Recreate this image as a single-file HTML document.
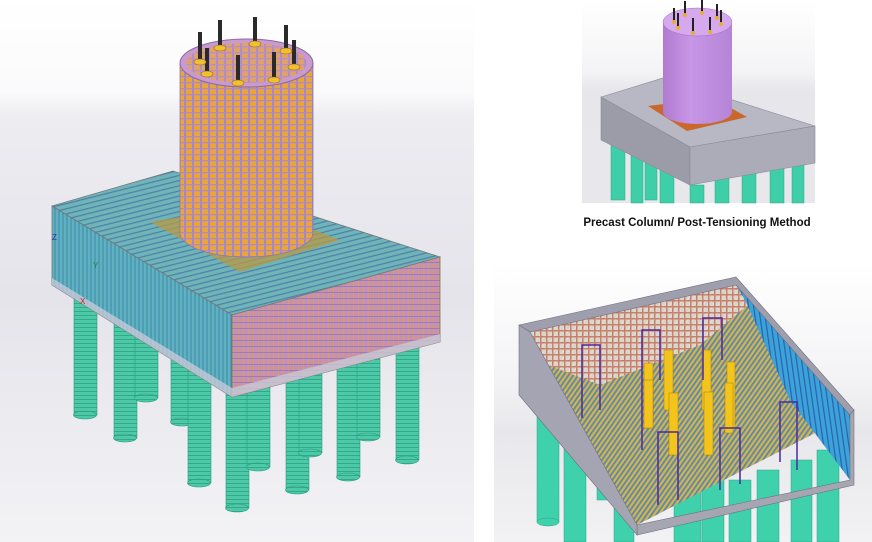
<!DOCTYPE html>
<html><head><meta charset="utf-8"><style>
html,body{margin:0;padding:0;background:#fff;}
body{width:872px;height:542px;overflow:hidden;position:relative;font-family:"Liberation Sans",sans-serif;}
svg{position:absolute;left:0;top:0;}
</style></head><body>
<svg width="872" height="542" viewBox="0 0 872 542">
<defs>
<linearGradient id="bgL" x1="0" y1="0" x2="0" y2="1">
<stop offset="0" stop-color="#ffffff"/><stop offset="0.17" stop-color="#fafafb"/><stop offset="0.22" stop-color="#ececf1"/><stop offset="0.55" stop-color="#e4e4ea"/><stop offset="1" stop-color="#f3f3f6"/></linearGradient>
<linearGradient id="bgR" x1="0" y1="0" x2="0" y2="1">
<stop offset="0" stop-color="#ffffff"/><stop offset="0.35" stop-color="#f4f4f6"/><stop offset="0.45" stop-color="#e6e6eb"/><stop offset="1" stop-color="#e8e8ec"/></linearGradient>
<linearGradient id="bgR2" x1="0" y1="0" x2="0" y2="1">
<stop offset="0" stop-color="#ffffff"/><stop offset="0.4" stop-color="#f4f4f6"/><stop offset="0.6" stop-color="#e8e8ec"/><stop offset="1" stop-color="#f2f2f4"/></linearGradient>
<linearGradient id="cylShade" x1="0" y1="0" x2="1" y2="0">
<stop offset="0" stop-color="#b07ad0"/><stop offset="0.4" stop-color="#c896e6"/><stop offset="1" stop-color="#b584d6"/></linearGradient>
<pattern id="colP" width="8" height="6" patternUnits="userSpaceOnUse">
<rect width="8" height="6" fill="#e9a53c"/><rect x="0" width="2" height="6" fill="#a487c8"/><rect y="4" width="8" height="1.3" fill="#b08ac4"/></pattern>
<pattern id="topP" width="5" height="5" patternUnits="userSpaceOnUse" patternTransform="rotate(-14)">
<rect width="5" height="5" fill="#6fb4b8"/><rect y="3" width="5" height="1.2" fill="#4f7fa6"/></pattern>
<pattern id="leftP" width="4" height="6" patternUnits="userSpaceOnUse">
<rect width="4" height="6" fill="#5fb2c0"/><rect x="2.5" width="1" height="6" fill="#3f86a8"/></pattern>
<pattern id="rightP" width="5" height="6" patternUnits="userSpaceOnUse">
<rect width="5" height="6" fill="#c58fb8"/><rect x="3" width="1.2" height="6" fill="#d8a05a"/><rect y="4" width="5" height="1" fill="#9a7ac0"/></pattern>
<pattern id="pileP" width="20" height="4" patternUnits="userSpaceOnUse">
<rect width="20" height="4" fill="#4cc9a6"/><rect y="3" width="20" height="1" fill="#36a88a"/></pattern>
<pattern id="floorP" width="4" height="4" patternUnits="userSpaceOnUse" patternTransform="rotate(35)">
<rect width="4" height="4" fill="#d4b44c"/><rect width="1.8" height="4" fill="#5a88ae"/></pattern>
<pattern id="gridP" width="6" height="6" patternUnits="userSpaceOnUse">
<rect width="6" height="6" fill="#e6e0da"/><rect width="1.5" height="6" fill="#d07a6a"/><rect width="6" height="1.5" fill="#d07a6a"/></pattern>
<pattern id="rwP" width="5" height="6" patternUnits="userSpaceOnUse" patternTransform="rotate(-8)">
<rect width="5" height="6" fill="#3aa3d8"/><rect x="3" width="1.2" height="6" fill="#2f5fb0"/></pattern>
</defs>

<!-- LEFT PANEL -->
<g>
<rect x="0" y="0" width="474" height="542" fill="url(#bgL)"/>
<g>
<g fill="url(#pileP)" stroke="#2e9c80" stroke-width="0.6">
<rect x="74" y="280" width="23" height="135"/><ellipse cx="85" cy="415" rx="11.5" ry="4"/>
<rect x="114" y="300" width="23" height="138"/><ellipse cx="125" cy="438" rx="11.5" ry="4"/>
<rect x="135" y="300" width="23" height="98"/><ellipse cx="146" cy="398" rx="11.5" ry="4"/>
<rect x="171" y="330" width="23" height="92"/><ellipse cx="182" cy="422" rx="11.5" ry="4"/>
<rect x="188" y="350" width="23" height="133"/><ellipse cx="199" cy="483" rx="11.5" ry="4"/>
<rect x="226" y="380" width="23" height="128"/><ellipse cx="237" cy="508" rx="11.5" ry="4"/>
<rect x="247" y="370" width="23" height="97"/><ellipse cx="258" cy="467" rx="11.5" ry="4"/>
<rect x="286" y="360" width="23" height="130"/><ellipse cx="297" cy="490" rx="11.5" ry="4"/>
<rect x="299" y="340" width="23" height="113"/><ellipse cx="310" cy="453" rx="11.5" ry="4"/>
<rect x="337" y="330" width="23" height="147"/><ellipse cx="348" cy="477" rx="11.5" ry="4"/>
<rect x="357" y="320" width="23" height="117"/><ellipse cx="368" cy="437" rx="11.5" ry="4"/>
<rect x="396" y="320" width="23" height="140"/><ellipse cx="407" cy="460" rx="11.5" ry="4"/>
</g></g>
<g>
<polygon points="52,206 173,171 440,257 232,315" fill="url(#topP)" stroke="#777" stroke-width="0.8"/>
<polygon points="52,206 232,315 232,397 52,285" fill="url(#leftP)" stroke="#777" stroke-width="0.8"/>
<polygon points="232,315 440,257 440,342 232,397" fill="url(#rightP)" stroke="#777" stroke-width="0.8"/>
<polygon points="52,278 232,388 232,397 52,285" fill="#c7c9d6" opacity="0.8"/>
<polygon points="232,388 440,334 440,342 232,397" fill="#c7c9d6" opacity="0.8"/>
<polygon points="150,222 250,205 340,240 240,272" fill="#b89a44" opacity="0.75"/>
</g>
<g>
<path d="M180,63 V233 A66.5,24 0 0 0 313,233 V63 Z" fill="url(#colP)" stroke="#8a7ab0" stroke-width="0.8"/>
<ellipse cx="246.5" cy="63" rx="66.5" ry="24" fill="#c99ad0" stroke="#8a6aa0"/>
<ellipse cx="246.5" cy="63" rx="60" ry="20" fill="url(#colP)" opacity="0.7"/>
<g fill="#2a2a2a">
<rect x="198" y="32" width="4" height="30"/><rect x="218" y="20" width="4" height="28"/><rect x="253" y="17" width="4" height="27"/><rect x="284" y="25" width="4" height="26"/><rect x="292" y="40" width="4" height="26"/><rect x="205" y="48" width="4" height="25"/><rect x="236" y="55" width="4" height="27"/><rect x="272" y="52" width="4" height="27"/>
</g>
<g fill="#f0c030" stroke="#a07010" stroke-width="0.6">
<ellipse cx="200" cy="62" rx="6" ry="3"/><ellipse cx="220" cy="48" rx="6" ry="3"/><ellipse cx="255" cy="44" rx="6" ry="3"/><ellipse cx="286" cy="51" rx="6" ry="3"/><ellipse cx="294" cy="67" rx="6" ry="3"/><ellipse cx="207" cy="74" rx="6" ry="3"/><ellipse cx="238" cy="83" rx="6" ry="3"/><ellipse cx="274" cy="80" rx="6" ry="3"/>
</g></g>
<text x="52" y="240" font-size="8" fill="#3030a0">Z</text>
<text x="93" y="268" font-size="8" fill="#208040">Y</text>
<text x="80" y="304" font-size="8" fill="#c02020">X</text>
</g>

<!-- TOP RIGHT PANEL -->
<g>
<rect x="582" y="0" width="233" height="203" fill="url(#bgR)"/>
<g fill="#3fcfa8" stroke="#2aa586" stroke-width="0.5">
<rect x="611" y="140" width="14" height="60"/><rect x="631" y="150" width="12" height="53"/><rect x="645" y="160" width="12" height="40"/><rect x="660" y="170" width="14" height="33"/><rect x="690" y="185" width="14" height="18"/><rect x="715" y="175" width="14" height="28"/><rect x="742" y="172" width="14" height="31"/><rect x="770" y="165" width="14" height="38"/><rect x="792" y="160" width="12" height="43"/>
</g>
<polygon points="601,97 663,78 815,126 690,147" fill="#b8b8c4" stroke="#8a8a96" stroke-width="0.6"/>
<polygon points="601,97 690,147 690,185 601,140" fill="#9c9ca8" stroke="#8a8a96" stroke-width="0.6"/>
<polygon points="690,147 815,126 815,163 690,185" fill="#acacb8" stroke="#8a8a96" stroke-width="0.6"/>
<polygon points="648,106 713,98 747,117 687,131" fill="#c8682a"/>
<g>
<path d="M663,22 V112 A34.5,12 0 0 0 732,112 V22 Z" fill="url(#cylShade)"/>
<ellipse cx="697.5" cy="22" rx="34.5" ry="14" fill="#d6a8ee" stroke="#a070c0" stroke-width="0.5"/>
<g fill="#222"><rect x="673" y="8" width="2" height="14"/><rect x="684" y="1" width="2" height="14"/><rect x="701" y="0" width="2" height="12"/><rect x="716" y="4" width="2" height="14"/><rect x="720" y="10" width="2" height="14"/><rect x="677" y="13" width="2" height="14"/><rect x="692" y="18" width="2" height="14"/><rect x="709" y="17" width="2" height="14"/></g>
<g fill="#e8b030"><circle cx="674" cy="22" r="2"/><circle cx="685" cy="15" r="2"/><circle cx="702" cy="13" r="2"/><circle cx="717" cy="18" r="2"/><circle cx="721" cy="24" r="2"/><circle cx="678" cy="28" r="2"/><circle cx="693" cy="33" r="2"/><circle cx="710" cy="32" r="2"/></g>
</g>
</g>
<text x="697" y="226" font-size="11.5" font-weight="bold" fill="#111" text-anchor="middle">Precast Column/ Post-Tensioning Method</text>

<!-- BOTTOM RIGHT PANEL -->
<g>
<rect x="494" y="262" width="378" height="280" fill="url(#bgR2)"/>
<g fill="#3fd0ac" stroke="#2aa586" stroke-width="0.5">
<rect x="537" y="390" width="22" height="132"/><ellipse cx="548" cy="522" rx="11" ry="4"/>
<rect x="564" y="420" width="22" height="122"/><rect x="597" y="440" width="18" height="60"/><rect x="614" y="460" width="20" height="82"/>
<rect x="674" y="480" width="27" height="62"/><rect x="702" y="480" width="22" height="62"/><rect x="729" y="480" width="22" height="62"/><rect x="757" y="470" width="22" height="72"/><rect x="791" y="460" width="21" height="82"/><rect x="817" y="450" width="22" height="92"/>
</g>
<polygon points="530,332 736,285 850,415 637,525" fill="url(#floorP)"/>
<polygon points="530,332 736,285 748,305 700,345 600,385 548,365" fill="url(#gridP)" opacity="0.85"/>
<polygon points="736,285 850,415 850,480 790,400 745,300" fill="url(#rwP)"/>
<polygon points="519,325 736,277 854,410 850,415 736,285 530,332" fill="#9e9eac" stroke="#707080" stroke-width="0.6"/>
<polygon points="850,415 854,410 854,485 637,535 637,525 850,480" fill="#a6a6b2" stroke="#707080" stroke-width="0.6"/>
<polygon points="519,325 530,332 637,525 637,535 519,395" fill="#a4a4b2" stroke="#707080" stroke-width="0.6"/>
<g fill="#f2c41c" stroke="#a08010" stroke-width="0.5">
<rect x="644" y="363" width="9" height="65"/><rect x="664" y="350" width="9" height="60"/><rect x="669" y="393" width="9" height="62"/><rect x="702" y="350" width="9" height="60"/><rect x="704" y="392" width="9" height="63"/><rect x="727" y="362" width="8" height="66"/><rect x="725" y="383" width="8" height="50"/><rect x="644" y="380" width="9" height="48"/>
</g>
<g fill="none" stroke="#4a2aa0" stroke-width="1.5">
<path d="M582,418 V345 H600 V410"/><path d="M642,450 V330 H660 V380"/><path d="M703,380 V318 H722 V360"/><path d="M658,505 V432 H678 V500"/><path d="M720,490 V428 H740 V484"/><path d="M780,462 V402 H797 V470"/>
</g>
</g>
</svg>
</body></html>
